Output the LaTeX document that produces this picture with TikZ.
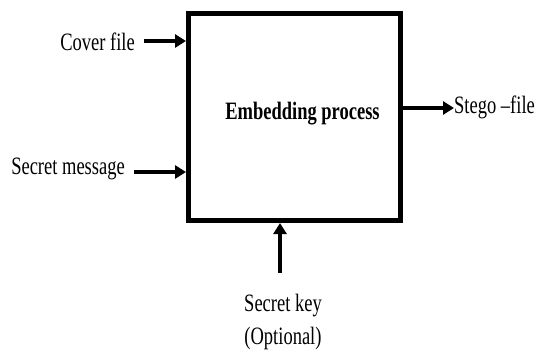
\documentclass[tikz,border=0pt]{standalone}
\usepackage{fontspec}
\setmainfont{Liberation Serif}
\usetikzlibrary{arrows.meta}
\newcommand\narrowtext[1]{\scalebox{0.74}[1]{#1}}
\tikzset{
  lbl/.style={inner sep=0pt, font=\fontsize{25}{33}\selectfont},
  procbox/.style={draw, line width=5pt, minimum width=212pt, minimum height=207pt, inner sep=0pt},
  arr/.style={line width=3.3pt, -{Triangle[length=11pt,width=13pt]}}
}
\begin{document}
\begin{tikzpicture}[x=1pt,y=-1pt]
\useasboundingbox (0,0) rectangle (537,351);

% central process block
\node[procbox] (box) at (294.5,117) {};
\node[lbl, anchor=base] (proc) at (302.5,119.5) {\narrowtext{\bfseries Embedding process}};

% inputs and output
\node[lbl, anchor=base east] (cover) at (135,50) {\narrowtext{Cover file}};
\node[lbl, anchor=base east] (msg) at (125,174) {\narrowtext{Secret message}};
\node[lbl, anchor=base west] (stego) at (454,113) {\narrowtext{Stego –file}};
\node[lbl, anchor=north, align=center] (key) at (283,293.5)
  {\narrowtext{Secret key}\\\narrowtext{(Optional)}};

% connectors
\draw[arr] ([xshift=9pt,yshift=9pt]cover.base east) -- ([yshift=9pt]cover.base -| box.west);
\draw[arr] ([xshift=9pt,yshift=2pt]msg.base east) -- ([yshift=2pt]msg.base -| box.west);
\draw[arr] ([yshift=5pt]stego.base -| box.east) -- ([yshift=5pt]stego.base west);
\draw[arr] ([xshift=-3pt,yshift=20.5pt]key.north) -- ([xshift=-3pt]key.north |- box.south);
\end{tikzpicture}
\end{document}
